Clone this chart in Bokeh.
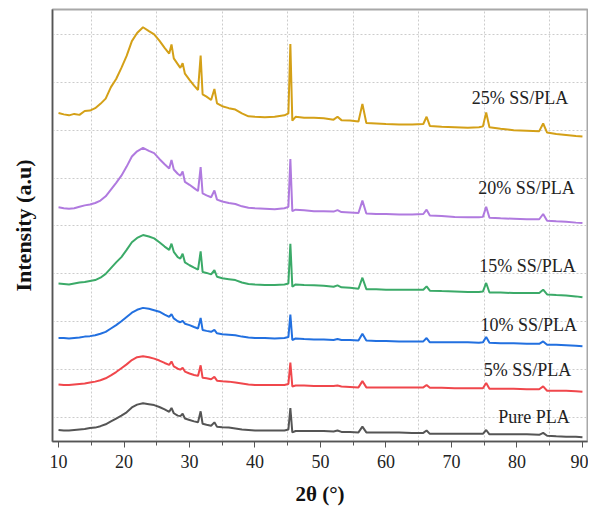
from bokeh.plotting import figure
from bokeh.models import Range1d, FixedTicker, SingleIntervalTicker
from bokeh.core.properties import value
from bokeh.embed import file_html
from bokeh.resources import INLINE

two_theta = [10.0, 10.8, 11.6, 12.4, 13.2, 14.0, 14.8, 15.6, 16.4, 17.2,
             18.0, 18.8, 19.6, 20.4, 21.2, 22.0, 22.9, 23.8, 24.6, 25.4,
             26.2, 26.9, 27.25, 27.6, 28.2, 28.6, 28.95, 29.3, 30.0, 30.7,
             31.3, 31.7, 32.0, 32.6, 33.3, 33.8, 34.2, 35.0, 36.0, 37.0,
             38.0, 39.0, 40.0, 41.5, 43.0, 44.5, 45.1, 45.4, 45.7, 46.2,
             47.5, 49.0, 50.5, 52.0, 52.6, 53.2, 54.5, 55.8, 56.4, 57.0,
             58.5, 60.0, 62.0, 64.0, 65.7, 66.2, 66.7, 68.5, 70.5, 72.5,
             74.2, 74.8, 75.3, 75.8, 77.5, 79.5, 81.5, 83.4, 84.0, 84.6,
             86.0, 87.5, 89.0, 90.0]

ss25 = [7.36, 7.33, 7.31, 7.34, 7.32, 7.40, 7.41, 7.46, 7.55, 7.66,
        7.90, 8.07, 8.30, 8.55, 8.86, 9.03, 9.15, 9.07, 9.00, 8.87,
        8.72, 8.60, 8.79, 8.50, 8.38, 8.30, 8.40, 8.18, 8.05, 7.93,
        7.84, 8.56, 7.75, 7.70, 7.63, 7.86, 7.56, 7.50, 7.46, 7.43,
        7.35, 7.29, 7.28, 7.27, 7.28, 7.31, 7.35, 8.80, 7.20, 7.28,
        7.26, 7.26, 7.25, 7.22, 7.28, 7.21, 7.20, 7.18, 7.55, 7.15,
        7.14, 7.13, 7.12, 7.12, 7.13, 7.28, 7.09, 7.07, 7.06, 7.05,
        7.06, 7.08, 7.37, 7.06, 7.03, 7.00, 6.99, 6.98, 7.14, 6.95,
        6.92, 6.90, 6.88, 6.87]

ss20 = [5.39, 5.37, 5.36, 5.37, 5.40, 5.43, 5.45, 5.48, 5.53, 5.62,
        5.76, 5.90, 6.05, 6.24, 6.45, 6.56, 6.63, 6.57, 6.52, 6.40,
        6.29, 6.20, 6.38, 6.18, 6.09, 6.05, 6.14, 5.92, 5.86, 5.79,
        5.73, 6.23, 5.68, 5.64, 5.60, 5.74, 5.55, 5.51, 5.48, 5.46,
        5.41, 5.38, 5.37, 5.36, 5.35, 5.37, 5.40, 6.40, 5.31, 5.34,
        5.33, 5.31, 5.31, 5.30, 5.33, 5.29, 5.28, 5.27, 5.53, 5.26,
        5.25, 5.25, 5.24, 5.24, 5.25, 5.34, 5.22, 5.21, 5.19, 5.18,
        5.18, 5.19, 5.40, 5.17, 5.16, 5.15, 5.14, 5.14, 5.25, 5.11,
        5.10, 5.09, 5.07, 5.06]

ss15 = [3.80, 3.79, 3.78, 3.80, 3.82, 3.83, 3.85, 3.87, 3.92, 4.00,
        4.12, 4.24, 4.35, 4.50, 4.66, 4.75, 4.81, 4.78, 4.74, 4.66,
        4.57, 4.50, 4.63, 4.46, 4.35, 4.32, 4.42, 4.24, 4.18, 4.13,
        4.09, 4.47, 4.04, 4.02, 3.99, 4.08, 3.94, 3.91, 3.89, 3.87,
        3.82, 3.79, 3.78, 3.77, 3.77, 3.78, 3.80, 4.63, 3.73, 3.78,
        3.77, 3.76, 3.75, 3.73, 3.76, 3.72, 3.71, 3.69, 3.92, 3.68,
        3.68, 3.67, 3.67, 3.67, 3.67, 3.74, 3.65, 3.64, 3.63, 3.62,
        3.62, 3.63, 3.81, 3.61, 3.61, 3.60, 3.60, 3.60, 3.67, 3.57,
        3.56, 3.55, 3.53, 3.51]

ss10 = [2.66, 2.66, 2.65, 2.66, 2.67, 2.69, 2.70, 2.72, 2.75, 2.79,
        2.86, 2.93, 3.01, 3.10, 3.19, 3.25, 3.29, 3.27, 3.24, 3.21,
        3.15, 3.10, 3.16, 3.07, 3.01, 2.99, 3.02, 2.96, 2.93, 2.89,
        2.86, 3.08, 2.83, 2.81, 2.79, 2.83, 2.76, 2.74, 2.73, 2.72,
        2.69, 2.67, 2.66, 2.66, 2.65, 2.66, 2.68, 3.15, 2.62, 2.65,
        2.64, 2.63, 2.63, 2.62, 2.64, 2.62, 2.62, 2.61, 2.75, 2.61,
        2.60, 2.60, 2.59, 2.59, 2.59, 2.66, 2.57, 2.57, 2.57, 2.57,
        2.56, 2.57, 2.68, 2.56, 2.55, 2.55, 2.54, 2.54, 2.59, 2.52,
        2.52, 2.51, 2.50, 2.49]

ss5 = [1.69, 1.68, 1.68, 1.69, 1.70, 1.71, 1.73, 1.75, 1.78, 1.82,
       1.88, 1.95, 2.03, 2.11, 2.20, 2.26, 2.28, 2.26, 2.23, 2.19,
       2.14, 2.10, 2.17, 2.07, 2.02, 2.00, 2.04, 1.96, 1.92, 1.89,
       1.87, 2.09, 1.83, 1.82, 1.80, 1.85, 1.77, 1.76, 1.75, 1.73,
       1.71, 1.69, 1.68, 1.68, 1.68, 1.68, 1.70, 2.15, 1.65, 1.67,
       1.67, 1.66, 1.66, 1.66, 1.67, 1.65, 1.64, 1.63, 1.76, 1.63,
       1.63, 1.63, 1.63, 1.63, 1.63, 1.68, 1.62, 1.62, 1.61, 1.61,
       1.61, 1.61, 1.72, 1.60, 1.60, 1.60, 1.59, 1.59, 1.65, 1.56,
       1.56, 1.56, 1.55, 1.54]

pure = [0.74, 0.73, 0.73, 0.74, 0.75, 0.76, 0.78, 0.79, 0.82, 0.86,
        0.92, 0.98, 1.04, 1.11, 1.21, 1.27, 1.30, 1.28, 1.26, 1.22,
        1.17, 1.12, 1.20, 1.09, 1.04, 1.03, 1.08, 0.98, 0.95, 0.92,
        0.90, 1.13, 0.87, 0.85, 0.83, 0.90, 0.81, 0.80, 0.79, 0.77,
        0.75, 0.74, 0.73, 0.73, 0.73, 0.73, 0.75, 1.20, 0.69, 0.72,
        0.72, 0.72, 0.72, 0.71, 0.73, 0.70, 0.70, 0.69, 0.81, 0.69,
        0.69, 0.69, 0.69, 0.68, 0.68, 0.73, 0.66, 0.66, 0.66, 0.66,
        0.66, 0.66, 0.74, 0.65, 0.65, 0.65, 0.65, 0.64, 0.68, 0.62,
        0.61, 0.60, 0.60, 0.59]

series_names = ["Pure PLA", "5% SS/PLA", "10% SS/PLA", "15% SS/PLA", "20% SS/PLA", "25% SS/PLA"]
series_values = [pure, ss5, ss10, ss15, ss20, ss25]
series_colors = ["#555555", "#F0474C", "#2270E0", "#3BAA68", "#B07ADF", "#D4A017"]
label_x = [82.6, 81.6, 81.8, 81.6, 81.45, 80.45]
label_y = [1.01, 1.99, 2.94, 4.17, 5.80, 7.67]

x_grid = [15, 25, 35, 45, 55, 65, 75, 85]
y_grid = [1, 2, 3, 4, 5, 6, 7, 8, 9]

SERIF = "Liberation Serif"

p = figure(width=588, height=512, output_backend="svg", toolbar_location=None,
           x_range=Range1d(9.08, 90.77), y_range=Range1d(0.5, 9.52),
           min_border_left=52, min_border_right=1, min_border_top=9, min_border_bottom=71)

p.outline_line_color = "#a8a8a8"
p.outline_line_width = 2

for vals, col in zip(series_values, series_colors):
    p.line(two_theta, vals, line_color=col, line_width=2)

p.text(x=label_x, y=label_y, text=series_names, text_font=value(SERIF),
       text_font_size="18px", text_color="#222222", text_align="center",
       text_baseline="middle")

# x axis
p.xaxis.ticker = SingleIntervalTicker(interval=10, num_minor_ticks=2)
p.xaxis.major_label_text_font = SERIF
p.xaxis.major_label_text_font_size = "18px"
p.xaxis.major_label_text_color = "#222222"
p.xaxis.axis_line_color = "#555555"
p.xaxis.axis_line_width = 1.5
p.xaxis.major_tick_line_color = "#555555"
p.xaxis.minor_tick_line_color = "#555555"
p.xaxis.major_tick_out = 6
p.xaxis.major_tick_in = 0
p.xaxis.minor_tick_out = 4
p.xaxis.minor_tick_in = 0
p.xaxis.major_label_standoff = 7
p.xaxis.axis_label = "2θ (°)"
p.xaxis.axis_label_text_font = SERIF
p.xaxis.axis_label_text_font_size = "21px"
p.xaxis.axis_label_text_font_style = "bold"
p.xaxis.axis_label_text_color = "#111111"
p.xaxis.axis_label_standoff = 11

# y axis: no ticks, no tick labels, only line and title
p.yaxis.ticker = FixedTicker(ticks=[])
p.yaxis.major_tick_line_color = None
p.yaxis.minor_tick_line_color = None
p.yaxis.major_label_standoff = 0
p.yaxis.axis_line_color = "#555555"
p.yaxis.axis_line_width = 1.5
p.yaxis.axis_label = "Intensity (a.u)"
p.yaxis.axis_label_text_font = SERIF
p.yaxis.axis_label_text_font_size = "22px"
p.yaxis.axis_label_text_font_style = "bold"
p.yaxis.axis_label_text_color = "#111111"
p.yaxis.axis_label_standoff = 17

# grids
p.xgrid.ticker = FixedTicker(ticks=x_grid)
p.ygrid.ticker = FixedTicker(ticks=y_grid)
for g in (p.xgrid, p.ygrid):
    g.grid_line_color = "#cccccc"
    g.grid_line_dash = "2 2"
    g.grid_line_width = 1

open("out.html", "w").write(file_html(p, INLINE))
